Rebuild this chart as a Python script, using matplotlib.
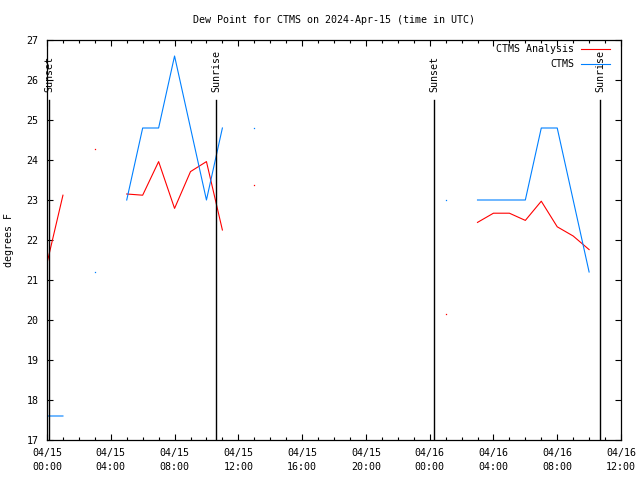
import numpy as np
import pandas as pd
import matplotlib
matplotlib.use("Agg")
import matplotlib.pyplot as plt
import matplotlib.dates as mdates

nan = np.nan

# hourly times, 04/15 00:00 to 04/16 10:00 UTC
times = pd.date_range("2024-04-15 00:00", periods=35, freq="h")

analysis = [21.42, 23.12, nan, 24.27, nan, 23.15, 23.12, 23.96, 22.79, 23.71,
            23.96, 22.25, nan, 23.37, nan, nan, nan, nan, nan, nan,
            nan, nan, nan, nan, nan, 20.14, nan, 22.44, 22.67, 22.67,
            22.49, 22.97, 22.33, 22.10, 21.76]
obs = [17.6, 17.6, nan, 21.2, nan, 23.0, 24.8, 24.8, 26.6, 24.8,
       23.0, 24.8, nan, 24.8, nan, nan, nan, nan, nan, nan,
       nan, nan, nan, nan, nan, 23.0, nan, 23.0, 23.0, 23.0,
       23.0, 24.8, 24.8, 23.0, 21.2]

sun_events = ["Sunset", "Sunrise", "Sunset", "Sunrise"]
sun_times = pd.to_datetime(["2024-04-15 00:09", "2024-04-15 10:37",
                            "2024-04-16 00:16", "2024-04-16 10:42"])

fs = 7.2
plt.rcParams["font.family"] = ["DejaVu Sans Mono"]
plt.rcParams["font.size"] = fs

fig = plt.figure(figsize=(6.4, 4.8), dpi=100)
ax = fig.add_axes([47/640, 40/480, 574/640, 400/480])


def isolated(vals):
    v = np.array(vals, dtype=float)
    prev = np.concatenate([[nan], v[:-1]])
    nxt = np.concatenate([v[1:], [nan]])
    return np.where(np.isnan(prev) & np.isnan(nxt), v, nan)


ax.plot(times, analysis, color="#ff0000", lw=0.8, label="CTMS Analysis")
ax.plot(times, obs, color="#0080ff", lw=0.8, label="CTMS")
ax.plot(times, isolated(analysis), ls="none", marker="s", ms=0.9, mew=0, color="#ff0000")
ax.plot(times, isolated(obs), ls="none", marker="s", ms=0.9, mew=0, color="#0080ff")

for name, t in zip(sun_events, sun_times):
    ax.axvline(t, ymin=0, ymax=0.85, color="black", lw=1)
    ax.text(t, 25.7, name, rotation=90, ha="center", va="bottom", fontsize=fs)

ax.set_xlim(pd.Timestamp("2024-04-15 00:00"), pd.Timestamp("2024-04-16 12:00"))
ax.set_ylim(17, 27)
ax.set_yticks(range(17, 28))
ax.xaxis.set_major_locator(mdates.HourLocator(byhour=range(0, 24, 4)))
ax.xaxis.set_minor_locator(mdates.HourLocator())
ax.xaxis.set_major_formatter(mdates.DateFormatter("%m/%d\n%H:%M"))
ax.tick_params(which="both", direction="in", top=True, right=True, labelsize=fs, width=0.8)
ax.tick_params(which="major", length=4, pad=6)
ax.tick_params(which="minor", length=2)
for lbl in ax.get_xticklabels():
    lbl.set_linespacing(1.5)
for s in ax.spines.values():
    s.set_linewidth(0.9)

ax.set_ylabel("degrees F", fontsize=fs, labelpad=9)
ax.set_title("Dew Point for CTMS on 2024-Apr-15 (time in UTC)", fontsize=fs, pad=12)

leg = ax.legend(loc="upper right", bbox_to_anchor=(610/640, 1 - 44/480),
                bbox_transform=fig.transFigure, frameon=False, markerfirst=False,
                fontsize=fs, handlelength=2.9, handletextpad=0.7, borderpad=0,
                borderaxespad=0, labelspacing=0.5)
for t in leg.get_texts():
    t.set_ha("right")

fig.savefig("out.png", dpi=100)
